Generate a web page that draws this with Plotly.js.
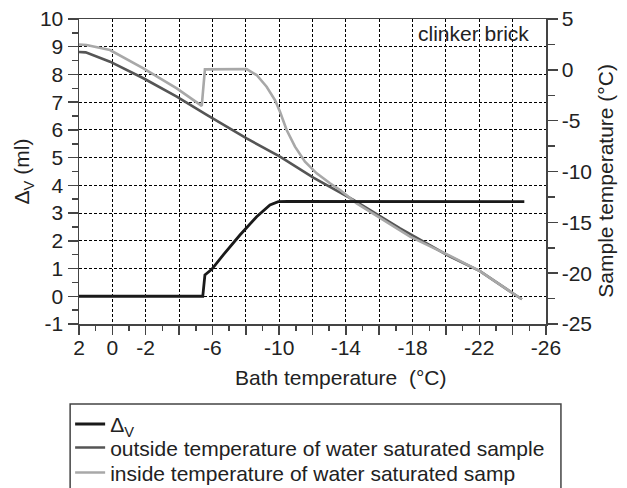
<!DOCTYPE html>
<html>
<head>
<meta charset="utf-8">
<script src="https://cdn.plot.ly/plotly-3.0.1.min.js"></script>
<style>html,body{margin:0;padding:0;background:#fff;}</style>
</head>
<body>
<div id="chart" style="width:627px;height:488px;"></div>
<script>
// Bath temperature (x) and ΔV (ml)
const dvBath = [2.2, -5.42, -5.55, -5.96, -6.65, -7.65, -8.65, -9.45, -9.95, -10.5, -24.7];
const dvValues = [0, 0, 0.77, 0.97, 1.49, 2.21, 2.87, 3.29, 3.41, 3.42, 3.41];

// outside temperature of water saturated sample (°C)
const outBath = [2.25, 1.6, 0.14, -1.86, -3.86, -5.66, -8.05, -10.05, -12.05, -14.45, -17.25, -20.25, -22.04, -24.55];
const outTemp = [1.78, 1.72, 0.80, -0.83, -2.64, -4.44, -6.74, -8.54, -10.6, -12.8, -15.59, -18.38, -19.8, -22.57];

// inside temperature of water saturated sample (°C)
const inBath = [2.25, 1.55, 0.14, -1.86, -3.86, -5.36, -5.55, -6.8, -8.05, -8.65, -9.25, -9.75, -10.05, -10.45, -10.95, -11.55, -12.25, -13.05, -13.65, -14.65, -16.05, -17.85, -20.25, -22.04, -24.55];
const inTemp = [2.51, 2.45, 1.95, 0.15, -1.82, -3.55, 0.05, 0.1, 0.08, -0.51, -1.66, -2.97, -4.12, -5.92, -7.56, -9.04, -10.18, -11.16, -11.82, -13.13, -14.6, -16.41, -18.3, -19.8, -22.57];

const xTickVals = [2, 0, -2, -4, -6, -8, -10, -12, -14, -16, -18, -20, -22, -24, -26];
const xTickText = ['2', '0', '-2', '', '-6', '', '-10', '', '-14', '', '-18', '', '-22', '', '-26'];
const dvTickVals = [-1, 0, 1, 2, 3, 4, 5, 6, 7, 8, 9, 10];
const dvTickText = ['-1', '0', '1', '2', '3', '4', '5', '6', '7', '8', '9', '10'];
const tTickVals = [-25, -20, -15, -10, -5, 0, 5];
const tTickText = ['-25', '-20', '-15', '-10', '-5', '0', '5'];

const seriesNames = ['Δ<sub>V</sub>', 'outside temperature of water saturated sample', 'inside temperature of water saturated samp'];
const xTitle = 'Bath temperature  (°C)';
const dvTitle = 'Δ<sub>V</sub> (ml)';
const tTitle = 'Sample temperature (°C)';
const label = 'clinker brick';

const FONT = 'Liberation Sans, Arial, sans-serif';
const AX = '#444';
const FS = 21;

const traces = [
  {x: outBath, y: outTemp, name: seriesNames[1], yaxis: 'y', mode: 'lines',
   line: {color: '#555555', width: 2.6}, legend: 'legend2'},
  {x: inBath, y: inTemp, name: seriesNames[2], yaxis: 'y', mode: 'lines',
   line: {color: '#a8a8a8', width: 2.6}, legend: 'legend3'},
  {x: dvBath, y: dvValues, name: seriesNames[0], yaxis: 'y2', mode: 'lines',
   line: {color: '#1a1a1a', width: 2.8}, legend: 'legend'}
];

const legRow = (yc) => ({
  orientation: 'v', x: -0.019, xanchor: 'left', y: yc, yanchor: 'middle',
  borderwidth: 0, bgcolor: 'rgba(0,0,0,0)', font: {size: FS, color: '#222'}
});

const layout = {
  width: 627, height: 488,
  margin: {l: 79, r: 81, t: 19, b: 164, autoexpand: false},
  paper_bgcolor: '#fff', plot_bgcolor: '#fff',
  font: {family: FONT, size: FS, color: '#222'},
  showlegend: true,
  xaxis: {
    range: [2, -26], tickmode: 'array', tickvals: xTickVals, ticktext: xTickText,
    ticks: 'outside', ticklen: 9, tickwidth: 1.5, tickcolor: AX,
    showline: true, linecolor: AX, linewidth: 1.5, mirror: true,
    showgrid: true, gridcolor: '#000', gridwidth: 1, griddash: '3px,2px',
    zeroline: false, tickfont: {size: FS}, ticklabelstandoff: -5,
    minor: {dtick: 1, tick0: 0, ticks: 'outside', ticklen: 5, tickwidth: 1.5, tickcolor: AX, showgrid: false}
  },
  yaxis: {
    range: [-25, 5], side: 'right', tickmode: 'array', tickvals: tTickVals, ticktext: tTickText,
    ticks: 'outside', ticklen: 10, tickwidth: 1.5, tickcolor: AX,
    showline: true, linecolor: AX, linewidth: 1.5,
    showgrid: false, zeroline: false, tickfont: {size: FS},
    minor: {dtick: 2.5, tick0: 0, ticks: 'outside', ticklen: 7, tickwidth: 1.5, tickcolor: AX, showgrid: false}
  },
  yaxis2: {
    range: [-1, 10], overlaying: 'y', side: 'left', tickmode: 'array', tickvals: dvTickVals, ticktext: dvTickText,
    ticks: 'outside', ticklen: 10, tickwidth: 1.5, tickcolor: AX,
    showline: true, linecolor: AX, linewidth: 1.5,
    showgrid: true, gridcolor: '#000', gridwidth: 1, griddash: '3px,2px',
    zeroline: false, tickfont: {size: FS},
    minor: {dtick: 0.5, tick0: 0, ticks: 'outside', ticklen: 6, tickwidth: 1.5, tickcolor: AX, showgrid: false},
    title: {text: dvTitle, font: {size: FS}, standoff: 4}
  },
  legend: legRow(-0.329),
  legend2: legRow(-0.406),
  legend3: legRow(-0.488),
  shapes: [{
    type: 'rect', xref: 'paper', yref: 'paper', layer: 'between',
    x0: 0.716, x1: 0.998, y0: 0.915, y1: 0.997,
    fillcolor: '#fff', line: {width: 0}
  }, {
    type: 'rect', xref: 'paper', yref: 'paper', layer: 'above',
    x0: -0.019, x1: 1.032, y0: -0.7, y1: -0.262,
    fillcolor: 'rgba(0,0,0,0)', line: {color: AX, width: 1.5}
  }],
  annotations: [{
    text: label, xref: 'paper', yref: 'paper', x: 0.968, y: 0.951,
    xanchor: 'right', yanchor: 'middle', showarrow: false,
    font: {size: FS, color: '#222'}
  }, {
    text: xTitle, xref: 'paper', yref: 'paper', x: 0.561, y: -0.174,
    xanchor: 'center', yanchor: 'middle', showarrow: false,
    font: {size: FS, color: '#222'}
  }, {
    text: tTitle, xref: 'paper', yref: 'paper', x: 1.128, y: 0.469, textangle: -90,
    xanchor: 'center', yanchor: 'middle', showarrow: false,
    font: {size: FS, color: '#222'}
  }]
};

Plotly.newPlot('chart', traces, layout, {displayModeBar: false, staticPlot: true});
</script>
</body>
</html>
